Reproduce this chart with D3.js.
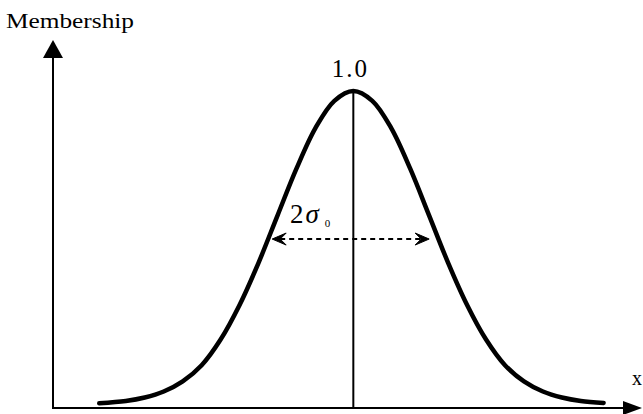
<!DOCTYPE html>
<html>
<head>
<meta charset="utf-8">
<script src="https://cdn.jsdelivr.net/npm/d3@7"></script>
<style>
  html, body { margin: 0; padding: 0; background: #fff; }
  svg { display: block; }
  text { font-family: "Liberation Serif", "Times New Roman", serif; fill: #000; }
</style>
</head>
<body>
<svg id="chart" width="643" height="414"></svg>
<script>
// ---- data ----
const xValues = [-3.35, -3.0, -2.75, -2.5, -2.25, -2.0, -1.75, -1.5, -1.25, -1.0, -0.75, -0.5, -0.25, 0,
                 0.25, 0.5, 0.75, 1.0, 1.25, 1.5, 1.75, 2.0, 2.25, 2.5, 2.75, 3.0, 3.3];
const membership = [0.015, 0.022, 0.033, 0.052, 0.084, 0.135, 0.216, 0.325, 0.458, 0.607, 0.755, 0.883, 0.969, 1.0,
                    0.969, 0.883, 0.755, 0.607, 0.458, 0.325, 0.216, 0.135, 0.084, 0.052, 0.033, 0.022, 0.016];
const peakLabel = "1.0";
const yAxisLabel = "Membership";
const xAxisLabel = "x";
const widthMarkerX = [-1.07, 1.0];   // ends of the 2σ0 arrow
const widthMarkerLevel = [0.533];    // membership level of the arrow

// ---- layout ----
const svg = d3.select("#chart");
const x = d3.scaleLinear().domain([-3.96, 3.78]).range([53, 640]);
const y = d3.scaleLinear().domain([0, 1]).range([408, 91]);
const x0 = x.range()[0], yBase = y.range()[0];

// axes
svg.append("line").attr("x1", x0).attr("x2", 625).attr("y1", yBase).attr("y2", yBase)
  .attr("stroke", "#000").attr("stroke-width", 2);
svg.append("path").attr("d", `M${642},${yBase} L${623},${yBase - 7} L${623},${yBase + 7} Z`).attr("fill", "#000");
svg.append("line").attr("x1", x0).attr("x2", x0).attr("y1", yBase + 1).attr("y2", 55)
  .attr("stroke", "#000").attr("stroke-width", 2);
svg.append("path").attr("d", `M${x0},40 L${x0 - 10},58 L${x0 + 10},58 Z`).attr("fill", "#000");

svg.append("text").attr("x", 6).attr("y", 28).attr("font-size", 21)
  .attr("textLength", 128).attr("lengthAdjust", "spacingAndGlyphs").text(yAxisLabel);
svg.append("text").attr("x", 632).attr("y", 385).attr("font-size", 20).text(xAxisLabel);

// vertical center line
svg.append("line").attr("x1", x(0)).attr("x2", x(0)).attr("y1", y(1)).attr("y2", yBase)
  .attr("stroke", "#000").attr("stroke-width", 2);

// curve
const pts = xValues.map((v, i) => [v, membership[i]]);
const line = d3.line().x(d => x(d[0])).y(d => y(d[1])).curve(d3.curveCatmullRom.alpha(0.5));
svg.append("path").attr("d", line(pts)).attr("fill", "none").attr("stroke", "#000")
  .attr("stroke-width", 4.5).attr("stroke-linecap", "round");

// peak label
svg.append("text").attr("x", x(0) - 3).attr("y", 77).attr("text-anchor", "middle")
  .attr("font-size", 25).attr("letter-spacing", 2).text(peakLabel);

// dashed width marker
const ay = y(widthMarkerLevel[0]);
const xl = x(widthMarkerX[0]), xr = x(widthMarkerX[1]);
svg.append("line").attr("x1", xl + 8).attr("x2", xr - 8).attr("y1", ay).attr("y2", ay)
  .attr("stroke", "#000").attr("stroke-width", 2).attr("stroke-dasharray", "5,4");
svg.append("path").attr("d", `M${xl},${ay} L${xl + 14},${ay - 6} L${xl + 8},${ay} L${xl + 14},${ay + 6} Z`)
  .attr("fill", "#000").attr("stroke", "#000").attr("stroke-width", 1).attr("stroke-linejoin", "round");
svg.append("path").attr("d", `M${xr},${ay} L${xr - 14},${ay - 6} L${xr - 8},${ay} L${xr - 14},${ay + 6} Z`)
  .attr("fill", "#000").attr("stroke", "#000").attr("stroke-width", 1).attr("stroke-linejoin", "round");

// 2σ0 label
const lab = svg.append("text").attr("x", 290).attr("y", 223).attr("font-size", 27);
lab.append("tspan").text("2");
lab.append("tspan").attr("font-style", "italic").attr("dx", 2).text("σ");
lab.append("tspan").attr("font-size", 11).attr("dx", 6).attr("dy", 4).text("0");
</script>
</body>
</html>
